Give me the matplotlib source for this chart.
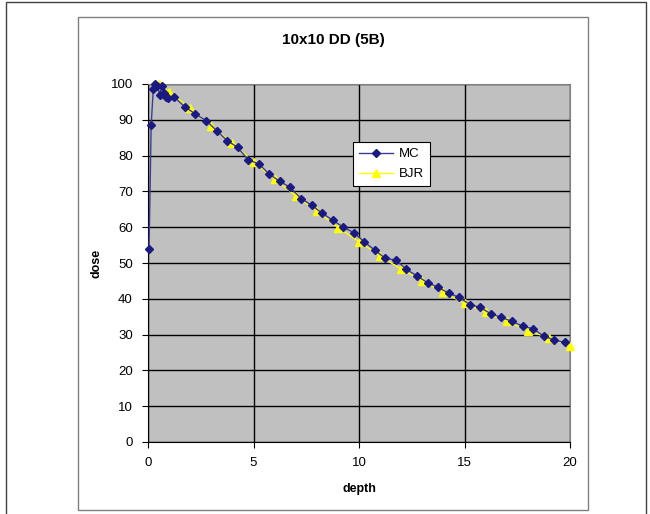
import matplotlib
matplotlib.use("Agg")
import matplotlib.pyplot as plt
from matplotlib.patches import Rectangle

plt.rcParams['font.family'] = ['Liberation Sans', 'DejaVu Sans']

# Monte Carlo depth dose
mc_depth = [0.05, 0.15, 0.25, 0.35, 0.45, 0.55, 0.65, 0.75, 0.85, 0.95, 1.25, 1.75,
            2.25, 2.75, 3.25, 3.75, 4.25, 4.75, 5.25, 5.75, 6.25, 6.75, 7.25, 7.75,
            8.25, 8.75, 9.25, 9.75, 10.25, 10.75, 11.25, 11.75, 12.25, 12.75, 13.25,
            13.75, 14.25, 14.75, 15.25, 15.75, 16.25, 16.75, 17.25, 17.75, 18.25,
            18.75, 19.25, 19.75]
mc_dose = [54, 88.5, 98.5, 100, 99.5, 97, 99.5, 97.5, 96.5, 96, 96.3, 93.6,
           91.6, 89.8, 87.0, 84.2, 82.3, 78.8, 77.7, 74.8, 72.8, 71.1, 68.0, 66.2,
           63.9, 62.0, 60.0, 58.5, 55.9, 53.6, 51.3, 50.8, 48.2, 46.4, 44.5,
           43.2, 41.6, 40.4, 38.4, 37.6, 35.8, 34.8, 33.7, 32.4, 31.6,
           29.6, 28.5, 27.8]

# BJR reference data
bjr_depth = [0.5, 1, 2, 3, 4, 5, 6, 7, 8, 9, 10, 11, 12, 13, 14, 15, 16, 17, 18, 19, 20]
bjr_dose = [100, 97.8, 93.2, 88.3, 83.4, 78.3, 73.4, 68.8, 64.5, 59.9, 56.0, 51.9,
            48.3, 45.0, 41.8, 38.7, 36.2, 33.7, 31.1, 29.1, 26.8]

W, H = 650, 514
fig = plt.figure(figsize=(W / 100, H / 100), dpi=100)

# outer frame and chart area frame
fig.patches.append(Rectangle((6 / W, -0.01), 640 / W, 1 - 2 / H + 0.01,
                             transform=fig.transFigure, fill=False,
                             edgecolor='#404040', lw=1))
fig.patches.append(Rectangle((78 / W, 1 - 510 / H), 510 / W, 493 / H,
                             transform=fig.transFigure, fill=False,
                             edgecolor='#808080', lw=1))

ax = fig.add_axes([148 / W, 1 - 442 / H, 422 / W, 358 / H])
ax.set_facecolor('#C0C0C0')

ax.plot(mc_depth, mc_dose, color='#3c3c96', lw=1, marker='D', ms=4.5,
        mfc='#1a1a80', mec='#1a1a80', label='MC', zorder=4, clip_on=False)
ax.plot(bjr_depth, bjr_dose, color='#ffff00', lw=1, marker='^', ms=6,
        mfc='#ffff00', mec='#ffff00', label='BJR', zorder=3, clip_on=False)

ax.set_xlim(0, 20)
ax.set_ylim(0, 100)
ax.set_xticks(range(0, 21, 5))
ax.set_yticks(range(0, 101, 10))
ax.grid(True, color='black', lw=1)
ax.set_axisbelow(True)
ax.tick_params(direction='out', length=4, labelsize=9.5, colors='black', pad=7)

for s in ['top', 'right']:
    ax.spines[s].set_color('#808080')
for s in ['left', 'bottom']:
    ax.spines[s].set_color('black')

ax.set_xlabel('depth', fontsize=9, fontweight='bold', labelpad=10)
ax.set_ylabel('dose', fontsize=9, fontweight='bold', labelpad=6)
fig.text(333 / W, 1 - 40 / H, '10x10 DD (5B)', fontsize=11, fontweight='bold',
         ha='center', va='center')

leg = ax.legend(loc='upper left', bbox_to_anchor=((353 - 148) / 422, (442 - 142) / 358),
                borderaxespad=0, frameon=True, fancybox=False, edgecolor='black',
                framealpha=1, fontsize=9.5, borderpad=0.45, handlelength=2.6,
                handletextpad=0.4, labelspacing=0.6)
leg.get_frame().set_linewidth(0.8)

fig.savefig('out.png', dpi=100)
